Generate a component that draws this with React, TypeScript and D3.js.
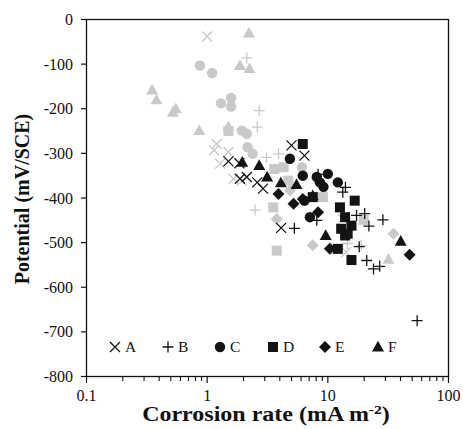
import React from "react";
import * as d3 from "d3";

// ---- data: [corrosion rate (mA m-2), potential (mV/SCE)] ----
const aDark: [number, number][] = [
  [1.5, -318], [1.85, -322], [1.87, -357], [2.13, -353], [2.6, -365], [2.9, -379],
  [4.1, -467], [5.0, -282], [6.4, -305],
];
const aLight: [number, number][] = [
  [1.0, -38], [1.2, -279], [1.14, -293], [1.5, -297], [1.28, -323], [1.65, -357],
  [1.94, -361], [14.2, -521], [13.3, -447],
];
const bDark: [number, number][] = [
  [5.28, -468], [8.3, -347], [8.1, -450], [14.0, -376], [13.3, -387], [17.3, -439],
  [20.2, -435], [28.6, -449], [21.9, -463], [18.2, -509], [21, -540], [23.9, -559],
  [26.9, -553], [55, -675],
];
const bLight: [number, number][] = [
  [2.13, -86], [2.7, -204], [2.6, -241], [2.49, -427], [3.1, -309], [3.9, -301],
  [18.9, -506], [14.5, -502],
];
const cDark: [number, number][] = [
  [4.85, -312], [6.2, -350], [8.1, -353], [10.0, -346], [12.1, -365], [8.6, -365],
  [7.1, -443], [6.4, -406], [9.2, -375],
];
const cLight: [number, number][] = [
  [0.87, -103], [1.1, -120], [1.3, -188], [1.58, -176], [1.58, -195], [1.94, -249],
  [2.13, -256], [2.16, -286], [2.38, -301], [6.1, -331],
];
const dDark: [number, number][] = [
  [6.2, -279], [7.5, -398], [16.7, -406], [12.6, -421], [13.9, -443], [12.9, -469],
  [15.7, -462], [13.9, -484], [14.6, -480], [12.1, -514], [15.7, -539],
];
const dLight: [number, number][] = [
  [1.5, -250], [3.53, -421], [3.77, -518], [3.6, -335], [4.3, -331], [9.1, -398],
  [19.8, -449], [4.7, -361],
];
const eDark: [number, number][] = [
  [3.9, -391], [5.2, -413], [6.2, -402], [8.3, -432], [10.4, -514], [47.6, -527],
];
const eLight: [number, number][] = [
  [3.77, -447], [7.5, -506], [35, -480], [4.85, -383],
];
const fDark: [number, number][] = [
  [1.95, -320], [2.7, -327], [3.14, -353], [4.08, -366], [5.5, -370], [7.5, -395],
  [9.6, -484], [40.2, -497],
];
const fLight: [number, number][] = [
  [2.22, -30], [1.87, -103], [2.24, -110], [0.35, -158], [0.38, -180], [0.55, -200],
  [0.52, -208], [0.86, -249], [1.5, -240], [31.8, -537],
];

const seriesNames = ["A", "B", "C", "D", "E", "F"];
const shapes = ["x", "plus", "circle", "square", "diamond", "triangle"];
const yTicks = [-800, -700, -600, -500, -400, -300, -200, -100, 0];
const xMajor = [0.1, 1, 10, 100];

const DARK = "#141414";
const LIGHT = "#c9c9c9";

const W = 463;
const H = 429;
const FONT = "'Liberation Serif', 'Times New Roman', serif";

function Marker({ shape, x, y, color }: { shape: string; x: number; y: number; color: string }) {
  const t = `translate(${x},${y})`;
  switch (shape) {
    case "x":
      return <path transform={t} d="M-5,-5L5,5M-5,5L5,-5" stroke={color} strokeWidth={1.3} fill="none" />;
    case "plus":
      return <path transform={t} d="M-5.5,0H5.5M0,-5.5V5.5" stroke={color} strokeWidth={1.3} fill="none" />;
    case "circle":
      return <circle cx={x} cy={y} r={5.2} fill={color} />;
    case "square":
      return <rect x={x - 5} y={y - 5} width={10} height={10} fill={color} />;
    case "diamond":
      return <path transform={t} d="M0,-6L6,0L0,6L-6,0Z" fill={color} />;
    default:
      return <path transform={t} d="M0,-6.2L6,4.5L-6,4.5Z" fill={color} />;
  }
}

export default function App() {
  const x = d3.scaleLog().domain([0.1, 100]).range([86.5, 448.5]);
  const y = d3.scaleLinear().domain([-800, 0]).range([376.5, 19.5]);

  const dark = [aDark, bDark, cDark, dDark, eDark, fDark];
  const light = [aLight, bLight, cLight, dLight, eLight, fLight];

  const minor: number[] = [];
  [0.1, 1, 10].forEach((d) => {
    for (let k = 2; k <= 9; k++) minor.push(d * k);
  });

  const legendX = [115, 168, 220, 273, 325, 378];
  const legendY = 347;

  return (
    <svg width={W} height={H} style={{ position: "absolute", left: 0, top: 0, background: "#fff" }} fontFamily={FONT}>
      <rect width={W} height={H} fill="#fff" />
      {/* frame */}
      <rect x={86.5} y={19.5} width={362} height={357} fill="none" stroke="#111" strokeWidth={1.3} />

      {/* y ticks */}
      {yTicks.map((t) => (
        <g key={t}>
          <line x1={81} x2={86.5} y1={y(t)} y2={y(t)} stroke="#111" strokeWidth={1.2} />
          <text x={73} y={y(t)} dy="0.35em" textAnchor="end" fontSize={16} fill="#111">
            {t}
          </text>
        </g>
      ))}

      {/* x ticks */}
      {minor.map((t) => (
        <line key={"m" + t} x1={x(t)} x2={x(t)} y1={376.5} y2={381} stroke="#111" strokeWidth={1.1} />
      ))}
      {xMajor.map((t) => (
        <g key={t}>
          <line x1={x(t)} x2={x(t)} y1={376.5} y2={383} stroke="#111" strokeWidth={1.2} />
          <text x={x(t)} y={401} textAnchor="middle" fontSize={16} fill="#111">
            {t}
          </text>
        </g>
      ))}

      {/* points */}
      {light.map((arr, i) =>
        arr.map((p, j) => <Marker key={`l${i}-${j}`} shape={shapes[i]} x={x(p[0])} y={y(p[1])} color={LIGHT} />)
      )}
      {dark.map((arr, i) =>
        arr.map((p, j) => <Marker key={`d${i}-${j}`} shape={shapes[i]} x={x(p[0])} y={y(p[1])} color={DARK} />)
      )}

      {/* legend */}
      {seriesNames.map((n, i) => (
        <g key={n}>
          <Marker shape={shapes[i]} x={legendX[i]} y={legendY} color={DARK} />
          <text x={legendX[i] + 10} y={legendY} dy="0.35em" fontSize={15.5} fill="#111">
            {n}
          </text>
        </g>
      ))}

      {/* axis titles */}
      <text
        transform={`translate(22,199) rotate(-90)`}
        textAnchor="middle"
        dy="0.35em"
        fontSize={20}
        fontWeight="bold"
        fill="#111"
      >
        Potential (mV/SCE)
      </text>
      <g transform="translate(266,421) scale(1.2,1)">
        <text x={0} y={0} textAnchor="middle" fontSize={20} fontWeight="bold" fill="#111">
          Corrosion rate (mA m
          <tspan dy={-7} fontSize={13}>-2</tspan>
          <tspan dy={7}>)</tspan>
        </text>
      </g>
    </svg>
  );
}
